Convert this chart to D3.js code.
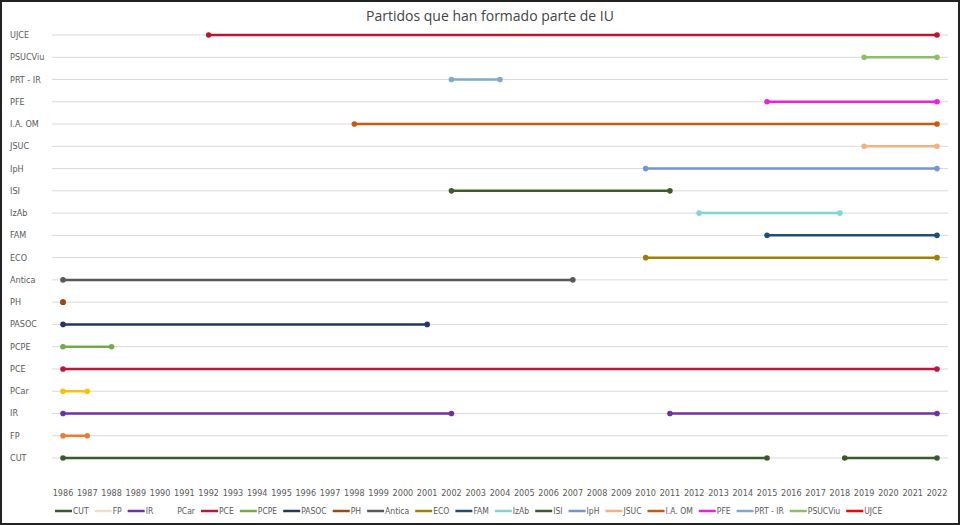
<!DOCTYPE html>
<html><head><meta charset="utf-8">
<script src="https://cdn.jsdelivr.net/npm/d3@7"></script>
<style>body{margin:0;background:#fff}text{font-family:"Liberation Sans Narrow","DejaVu Sans Condensed",sans-serif}</style>
</head><body><svg id="c" width="960" height="525"></svg>
<script>
// party rows, top to bottom
var parties = ['UJCE','PSUCViu','PRT - IR','PFE','I.A. OM','JSUC','IpH','ISI','IzAb','FAM','ECO','Antica','PH','PASOC','PCPE','PCE','PCar','IR','FP','CUT'];
// membership periods [start, end] per party
var periods = {
  'UJCE': [[1992, 2022]], 'PSUCViu': [[2019, 2022]], 'PRT - IR': [[2002, 2004]], 'PFE': [[2015, 2022]],
  'I.A. OM': [[1998, 2022]], 'JSUC': [[2019, 2022]], 'IpH': [[2010, 2022]], 'ISI': [[2002, 2011]],
  'IzAb': [[2012.2, 2018]], 'FAM': [[2015, 2022]], 'ECO': [[2010, 2022]], 'Antica': [[1986, 2007]],
  'PH': [[1986, 1986]], 'PASOC': [[1986, 2001]], 'PCPE': [[1986, 1988]], 'PCE': [[1986, 2022]],
  'PCar': [[1986, 1987]], 'IR': [[1986, 2002], [2011, 2022]], 'FP': [[1986, 1987]], 'CUT': [[1986, 2015], [2018.2, 2022]]
};
var colors = {
  'CUT': '#3a5a2a', 'FP': '#ed7d31', 'IR': '#7030a0', 'PCar': '#ffc000', 'PCE': '#c0143c', 'PCPE': '#70ad47',
  'PASOC': '#203864', 'PH': '#9e480e', 'Antica': '#595959', 'ECO': '#a08000', 'FAM': '#1f4e79', 'ISI': '#3b5e2b',
  'IpH': '#7393d8', 'IzAb': '#7fd6d6', 'JSUC': '#f4b183', 'I.A. OM': '#c55a11', 'PFE': '#f01edc',
  'PRT - IR': '#7ea9d1', 'PSUCViu': '#8cc065', 'UJCE': '#c0142c'
};
var legendColors = {'FP': '#f2dcd0', 'PCar': 'none', 'UJCE': '#ff0000'};
var years = d3.range(1986, 2023);

var svg = d3.select('#c');
svg.append('rect').attr('x', 1).attr('y', 1).attr('width', 958).attr('height', 523)
  .attr('fill', '#fff').attr('stroke', '#222').attr('stroke-width', 2);
svg.append('text').attr('x', 490).attr('y', 21).attr('text-anchor', 'middle')
  .style('font-family', 'Open Sans, sans-serif').style('font-size', '14px').attr('fill', '#444')
  .text('Partidos que han formado parte de IU');

var x = d3.scaleLinear().domain([1986, 2022]).range([63, 937]);
var y = d3.scalePoint().domain(parties).range([35, 458]);

svg.selectAll('line.grid').data(parties).join('line').attr('class', 'grid')
  .attr('x1', 52).attr('x2', 948).attr('y1', y).attr('y2', y)
  .attr('stroke', '#d9d9d9').attr('stroke-width', 1);
svg.selectAll('text.lab').data(parties).join('text').attr('class', 'lab')
  .attr('x', 10).attr('y', function(d){ return y(d) + 3; })
  .style('font-size', '9px').attr('fill', '#595959').text(function(d){ return d; });

svg.selectAll('text.yr').data(years).join('text').attr('class', 'yr')
  .attr('x', x).attr('y', 496).attr('text-anchor', 'middle')
  .style('font-size', '9px').attr('fill', '#595959').text(function(d){ return d; });

var segs = [];
parties.forEach(function(p){ periods[p].forEach(function(s){ segs.push({p: p, a: s[0], b: s[1]}); }); });
var g = svg.append('g');
g.selectAll('line.seg').data(segs).join('line').attr('class', 'seg')
  .attr('x1', function(d){ return x(d.a); }).attr('x2', function(d){ return x(d.b); })
  .attr('y1', function(d){ return y(d.p); }).attr('y2', function(d){ return y(d.p); })
  .attr('stroke', function(d){ return colors[d.p]; }).attr('stroke-width', 2.5);
var pts = [];
segs.forEach(function(s){ pts.push({p: s.p, v: s.a}); pts.push({p: s.p, v: s.b}); });
g.selectAll('circle').data(pts).join('circle')
  .attr('cx', function(d){ return x(d.v); }).attr('cy', function(d){ return y(d.p); }).attr('r', 2.8)
  .attr('fill', function(d){ return colors[d.p]; });

// legend
var legendOrder = parties.slice().reverse();
var lx = 55;
legendOrder.forEach(function(p){
  var c = legendColors[p] || colors[p];
  svg.append('line').attr('x1', lx).attr('x2', lx + 17).attr('y1', 511).attr('y2', 511)
    .attr('stroke', c).attr('stroke-width', 2.5);
  var t = svg.append('text').attr('x', lx + 18).attr('y', 514).style('font-size', '8.5px')
    .attr('fill', '#595959').text(p);
  lx += 18 + t.node().getComputedTextLength() + 6;
});
</script></body></html>
